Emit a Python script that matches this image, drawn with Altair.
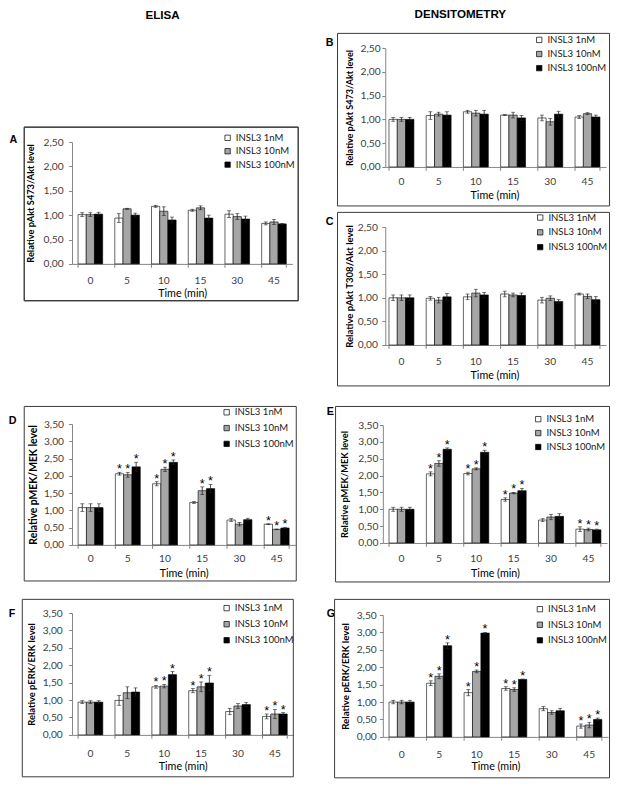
import altair as alt
import pandas as pd

S = 0.975
FONT = "Lato"
HFONT = "Liberation Sans"
LFS = 9.8  # legend label font size (orig px)

TIMES = ["0", "5", "10", "15", "30", "45"]
DOSES = ["INSL3 1nM", "INSL3 10nM", "INSL3 100nM"]
FILLS = ["#ffffff", "#a6a6a6", "#000000"]
Y_TICKS_AKT = [0, 0.5, 1.0, 1.5, 2.0, 2.5]
Y_TICKS_MAPK = [0, 0.5, 1.0, 1.5, 2.0, 2.5, 3.0, 3.5]

# ---- Panel A: ELISA pAkt S473/Akt
A_1NM = [1.01, 0.94, 1.18, 1.10, 1.02, 0.83]
A_1NM_ERR = [0.04, 0.09, 0.02, 0.02, 0.07, 0.03]
A_10NM = [1.01, 1.13, 1.08, 1.15, 0.97, 0.86]
A_10NM_ERR = [0.04, 0.01, 0.09, 0.04, 0.06, 0.05]
A_100NM = [1.02, 1.00, 0.90, 0.94, 0.92, 0.82]
A_100NM_ERR = [0.04, 0.04, 0.06, 0.06, 0.06, 0.01]

# ---- Panel B: densitometry pAkt S473/Akt
B_1NM = [1.00, 1.08, 1.16, 1.09, 1.03, 1.05]
B_1NM_ERR = [0.04, 0.08, 0.03, 0.01, 0.06, 0.03]
B_10NM = [1.00, 1.11, 1.13, 1.09, 0.95, 1.12]
B_10NM_ERR = [0.04, 0.04, 0.06, 0.06, 0.07, 0.02]
B_100NM = [1.00, 1.09, 1.11, 1.03, 1.11, 1.05]
B_100NM_ERR = [0.04, 0.07, 0.08, 0.05, 0.06, 0.04]

# ---- Panel C: densitometry pAkt T308/Akt
C_1NM = [1.00, 0.99, 1.02, 1.08, 0.95, 1.08]
C_1NM_ERR = [0.06, 0.04, 0.06, 0.06, 0.06, 0.02]
C_10NM = [1.00, 0.95, 1.10, 1.06, 0.99, 1.03]
C_10NM_ERR = [0.06, 0.06, 0.08, 0.04, 0.05, 0.05]
C_100NM = [1.00, 1.02, 1.06, 1.05, 0.92, 0.96]
C_100NM_ERR = [0.06, 0.07, 0.05, 0.05, 0.04, 0.07]

# ---- Panel D: ELISA pMEK/MEK
D_1NM = [1.08, 2.06, 1.77, 1.23, 0.72, 0.60]
D_1NM_ERR = [0.11, 0.04, 0.06, 0.03, 0.04, 0.01]
D_10NM = [1.08, 2.03, 2.19, 1.57, 0.60, 0.45]
D_10NM_ERR = [0.11, 0.07, 0.06, 0.11, 0.05, 0.01]
D_100NM = [1.08, 2.26, 2.39, 1.63, 0.73, 0.49]
D_100NM_ERR = [0.11, 0.13, 0.07, 0.12, 0.04, 0.02]
D_1NM_STAR = [0, 1, 1, 0, 0, 1]
D_10NM_STAR = [0, 1, 1, 1, 0, 1]
D_100NM_STAR = [0, 1, 1, 1, 0, 1]

# ---- Panel E: densitometry pMEK/MEK
E_1NM = [1.00, 2.05, 2.06, 1.29, 0.68, 0.41]
E_1NM_ERR = [0.06, 0.06, 0.04, 0.05, 0.04, 0.07]
E_10NM = [1.00, 2.36, 2.20, 1.48, 0.77, 0.40]
E_10NM_ERR = [0.06, 0.08, 0.03, 0.02, 0.08, 0.04]
E_100NM = [1.00, 2.78, 2.69, 1.55, 0.79, 0.39]
E_100NM_ERR = [0.06, 0.04, 0.06, 0.07, 0.08, 0.02]
E_1NM_STAR = [0, 1, 1, 1, 0, 1]
E_10NM_STAR = [0, 1, 1, 1, 0, 1]
E_100NM_STAR = [0, 1, 1, 1, 0, 1]

# ---- Panel F: ELISA pERK/ERK
F_1NM = [0.94, 0.99, 1.38, 1.27, 0.67, 0.53]
F_1NM_ERR = [0.04, 0.14, 0.04, 0.06, 0.09, 0.07]
F_10NM = [0.94, 1.21, 1.40, 1.38, 0.83, 0.60]
F_10NM_ERR = [0.04, 0.17, 0.05, 0.14, 0.07, 0.13]
F_100NM = [0.94, 1.23, 1.73, 1.49, 0.87, 0.60]
F_100NM_ERR = [0.04, 0.12, 0.09, 0.22, 0.06, 0.04]
F_1NM_STAR = [0, 0, 1, 1, 0, 1]
F_10NM_STAR = [0, 0, 1, 1, 0, 1]
F_100NM_STAR = [0, 0, 1, 1, 0, 1]

# ---- Panel G: densitometry pERK/ERK
G_1NM = [1.00, 1.54, 1.27, 1.39, 0.81, 0.31]
G_1NM_ERR = [0.05, 0.07, 0.09, 0.05, 0.06, 0.06]
G_10NM = [1.00, 1.74, 1.88, 1.36, 0.70, 0.34]
G_10NM_ERR = [0.05, 0.07, 0.04, 0.05, 0.05, 0.08]
G_100NM = [1.00, 2.62, 2.98, 1.65, 0.75, 0.50]
G_100NM_ERR = [0.05, 0.08, 0.02, 0.01, 0.07, 0.04]
G_1NM_STAR = [0, 1, 1, 1, 0, 1]
G_10NM_STAR = [0, 1, 1, 1, 0, 1]
G_100NM_STAR = [0, 1, 1, 1, 0, 1]

NO_STAR = [0, 0, 0, 0, 0, 0]

# layout (original-pixel units, relative to each plot area)
LAY = {
    "A": dict(w=226, h=125, ygap=9, ytfs=9.5, ytx=-43, yoff=0, lx=154.7, ly=-4.3, lsp=12.3,
              box=(-49, -15, 232, 163), let=(-64, -2), xlab=17, xtit=30),
    "B": dict(w=229, h=122, ygap=5.3, ytfs=9.3, ytx=-36.3, yoff=-2.5, lx=155.5, ly=-8.3, lsp=13,
              box=(-46.5, -15, 232.5, 162), let=(-58.5, -5), xlab=14.7, xtit=29.7),
    "C": dict(w=229, h=121, ygap=8, ytfs=9.8, ytx=-36.3, yoff=-2.5, lx=156.5, ly=-9.7, lsp=13.7,
              box=(-46.5, -15, 232.5, 163), let=(-58.5, -5), xlab=17.3, xtit=31.7),
    "D": dict(w=229, h=124, ygap=8.7, ytfs=10.6, ytx=-39.7, yoff=0, lx=153.7, ly=-12, lsp=14.7,
              box=(-49, -18, 230, 161), let=(-65, -3), xlab=14, xtit=29),
    "E": dict(w=230, h=121, ygap=5, ytfs=9.5, ytx=-39.5, yoff=0, lx=154.5, ly=-6, lsp=12.8,
              box=(-48.5, -19, 232.5, 161), let=(-57.5, -13.5), xlab=16, xtit=31),
    "F": dict(w=227, h=125, ygap=10, ytfs=9.6, ytx=-41.3, yoff=0, lx=153.7, ly=-5, lsp=15,
              box=(-51, -14, 227, 168), let=(-65, 1), xlab=18.7, xtit=32.7),
    "G": dict(w=231, h=125, ygap=6.7, ytfs=10, ytx=-38.8, yoff=0, lx=156.2, ly=-6, lsp=14.5,
              box=(-49.5, -16, 232.5, 167), let=(-57.5, -0.5), xlab=18, xtit=30.7),
}

LABEL_EXPR = "replace(format(datum.value, '.2f'), '.', ',')"
BOX_COLOR = "#3c3c3c"
TOP_GAP_LEFT = 97   # plot B top -> plot A top
GAP_C_E = 82        # plot C bottom -> plot E top
GAP_E_G = 73        # plot E bottom -> plot G top


def make_df(vals, errs, stars):
    rows = []
    for j, dose in enumerate(DOSES):
        for i, t in enumerate(TIMES):
            v = vals[j][i]
            e = errs[j][i]
            rows.append(dict(time=t, dose=dose, val=v, lo=v - e, hi=v + e,
                             star=bool(stars[j][i])))
    return pd.DataFrame(rows)


def box_rules(bx, dy=0.0):
    one = pd.DataFrame({"k": [0]})
    x1, x2 = bx[0] * S, bx[2] * S
    y1, y2 = (bx[1] + dy) * S, (bx[3] + dy) * S
    base = alt.Chart(one).mark_rule(color=BOX_COLOR, strokeWidth=1)
    return [
        base.encode(x=alt.value(x1), x2=alt.value(x2), y=alt.value(y1)),
        base.encode(x=alt.value(x1), x2=alt.value(x2), y=alt.value(y2)),
        base.encode(x=alt.value(x1), y=alt.value(y1), y2=alt.value(y2)),
        base.encode(x=alt.value(x2), y=alt.value(y1), y2=alt.value(y2)),
    ]


def letter_text(letter, dy=0.0):
    one = pd.DataFrame({"k": [0]})
    lx, ly = LAY[letter]["let"]
    return alt.Chart(one).mark_text(text=letter, font=HFONT, fontWeight="bold",
                                    fontSize=11 * S, align="left", baseline="middle",
                                    color="#000000").encode(
        x=alt.value(lx * S), y=alt.value((ly + dy) * S))


def panel(letter, vals, errs, stars, yticks, ytitle, own_letter=True):
    L = LAY[letter]
    w = L["w"] * S
    h = L["h"] * S
    df = make_df(vals, errs, stars)
    tdf = pd.DataFrame({"time": TIMES})

    xscale = alt.Scale(domain=TIMES, paddingInner=0.33, paddingOuter=0.165)
    yscale = alt.Scale(domain=[0, yticks[-1]], nice=False, zero=True)
    xaxis = alt.Axis(title="Time (min)", labelAngle=0, ticks=False, tickSize=0,
                     domainColor="#868686", domainWidth=1, grid=False,
                     labelColor="#404040", labelFont=FONT, labelFontSize=10.5 * S,
                     labelBaseline="middle", labelPadding=L["xlab"] * S,
                     titleFont=FONT, titleFontSize=11 * S, titleFontWeight="normal",
                     titleColor="#000000", titleY=L["xtit"] * S, titleBaseline="middle")
    yaxis = alt.Axis(title=ytitle, values=yticks, labelExpr=LABEL_EXPR, grid=False,
                     domainColor="#868686", domainWidth=1, tickColor="#868686",
                     tickSize=3.5 * S, labelPadding=max(L["ygap"] - 3.5, 0.5) * S,
                     labelColor="#404040", labelFont=FONT, labelFontSize=10.5 * S,
                     titleFont=FONT, titleFontSize=L["ytfs"] * S, titleFontWeight="bold",
                     titleColor="#000000", titleX=L["ytx"] * S,
                     titleY=h / 2, titleAngle=270, titleAlign="center", titleBaseline="middle",
                     offset=L["yoff"] * S)

    X = alt.X("time:N", sort=TIMES, scale=xscale, axis=xaxis)
    XO = alt.XOffset("dose:N", sort=DOSES,
                     scale=alt.Scale(domain=DOSES, paddingInner=0, paddingOuter=0))

    def Y(f):
        return alt.Y(f"{f}:Q", scale=yscale, axis=yaxis)

    legend = alt.Legend(orient="none", legendX=L["lx"] * S, legendY=(L["ly"] - LFS / 2) * S,
                        title=None, symbolType="square", symbolSize=(5.5 * S) ** 2,
                        symbolStrokeColor="#000000", symbolStrokeWidth=0.7,
                        labelFont=FONT, labelFontSize=LFS * S, labelColor="#1a1a1a",
                        labelOffset=3.5 * S, rowPadding=(L["lsp"] - LFS) * S, padding=0)

    bt = alt.Chart(tdf).mark_rule(color="#868686", strokeWidth=1).encode(
        x=alt.X("time:N", sort=TIMES, scale=xscale, axis=xaxis, bandPosition=0),
        y=alt.value(h), y2=alt.value(h + 4 * S))
    bt_end = alt.Chart(tdf).transform_filter(alt.datum.time == TIMES[-1]).mark_rule(
        color="#868686", strokeWidth=1).encode(
        x=alt.X("time:N", sort=TIMES, scale=xscale, axis=xaxis, bandPosition=1),
        y=alt.value(h), y2=alt.value(h + 4 * S))

    bars = alt.Chart(df).mark_bar(stroke="#000000", strokeWidth=0.6).encode(
        x=X, xOffset=XO, y=Y("val"),
        color=alt.Color("dose:N", sort=DOSES,
                        scale=alt.Scale(domain=DOSES, range=FILLS), legend=legend))

    err = alt.Chart(df).mark_rule(color="#1e1e1e", strokeWidth=0.8).encode(
        x=X, xOffset=XO, y=Y("lo"), y2=alt.Y2("hi"))
    cap_hi = alt.Chart(df).mark_tick(color="#1e1e1e", thickness=0.8, size=4 * S).encode(
        x=X, xOffset=XO, y=Y("hi"))
    cap_lo = alt.Chart(df).mark_tick(color="#1e1e1e", thickness=0.8, size=4 * S).encode(
        x=X, xOffset=XO, y=Y("lo"))

    layers = [bt, bt_end, bars, err, cap_hi, cap_lo]

    if df["star"].any():
        star = alt.Chart(df).transform_filter("datum.star").mark_text(
            text="*", font=HFONT, fontSize=13 * S, color="#000000",
            baseline="alphabetic", dy=1).encode(x=X, xOffset=XO, y=Y("hi"))
        layers.append(star)

    if own_letter:
        layers.append(letter_text(letter))
    layers.extend(box_rules(L["box"]))

    return alt.layer(*layers).properties(width=w, height=h)


def spacer(hh, header=None, extra=None):
    one = pd.DataFrame({"k": [0]})
    layers = [alt.Chart(one).mark_point(size=0, opacity=0).encode(
        x=alt.value(0), y=alt.value(0))]
    if header is not None:
        txt, hx, hy = header
        layers.append(alt.Chart(one).mark_text(text=txt, font=HFONT, fontWeight="bold",
                                               fontSize=11.9 * S, align="center", baseline="top",
                                               color="#000000").encode(
            x=alt.value(hx * S), y=alt.value(hy * S)))
    if extra:
        layers.extend(extra)
    return alt.layer(*layers).properties(width=1, height=hh * S)


pA = panel("A", [A_1NM, A_10NM, A_100NM], [A_1NM_ERR, A_10NM_ERR, A_100NM_ERR],
           [NO_STAR, NO_STAR, NO_STAR], Y_TICKS_AKT, "Relative pAkt S473/Akt level")
pB = panel("B", [B_1NM, B_10NM, B_100NM], [B_1NM_ERR, B_10NM_ERR, B_100NM_ERR],
           [NO_STAR, NO_STAR, NO_STAR], Y_TICKS_AKT, "Relative pAkt S473/Akt level")
pC = panel("C", [C_1NM, C_10NM, C_100NM], [C_1NM_ERR, C_10NM_ERR, C_100NM_ERR],
           [NO_STAR, NO_STAR, NO_STAR], Y_TICKS_AKT, "Relative pAkt T308/Akt level")
pD = panel("D", [D_1NM, D_10NM, D_100NM], [D_1NM_ERR, D_10NM_ERR, D_100NM_ERR],
           [D_1NM_STAR, D_10NM_STAR, D_100NM_STAR], Y_TICKS_MAPK, "Relative pMEK/MEK level")
pE = panel("E", [E_1NM, E_10NM, E_100NM], [E_1NM_ERR, E_10NM_ERR, E_100NM_ERR],
           [E_1NM_STAR, E_10NM_STAR, E_100NM_STAR], Y_TICKS_MAPK, "Relative pMEK/MEK level",
           own_letter=False)
pF = panel("F", [F_1NM, F_10NM, F_100NM], [F_1NM_ERR, F_10NM_ERR, F_100NM_ERR],
           [F_1NM_STAR, F_10NM_STAR, F_100NM_STAR], Y_TICKS_MAPK, "Relative pERK/ERK level")
pG = panel("G", [G_1NM, G_10NM, G_100NM], [G_1NM_ERR, G_10NM_ERR, G_100NM_ERR],
           [G_1NM_STAR, G_10NM_STAR, G_100NM_STAR], Y_TICKS_MAPK, "Relative pERK/ERK level",
           own_letter=False)

RES = dict(x="independent", y="independent", xOffset="independent", color="independent")

# the ELISA header and panel A's frame are also drawn from the top spacer of the left column
top_left = spacer(TOP_GAP_LEFT, ("ELISA", 92.8, -38.2),
                  extra=box_rules(LAY["A"]["box"], dy=TOP_GAP_LEFT))
left = alt.vconcat(top_left, pA, spacer(164), pD, spacer(69), pF,
                   spacing=0, bounds="flush").resolve_scale(**RES).resolve_legend(color="independent")
# letters E and G are drawn from the spacers just above their panels
right = alt.vconcat(spacer(1, ("DENSITOMETRY", 79.5, -39.2)), pB, spacer(61), pC,
                    spacer(GAP_C_E, extra=[letter_text("E", dy=GAP_C_E)]), pE,
                    spacer(GAP_E_G, extra=[letter_text("G", dy=GAP_E_G)]), pG,
                    spacing=0, bounds="flush").resolve_scale(**RES).resolve_legend(color="independent")

chart = alt.hconcat(left, right, spacing=26.5 * S, bounds="full").resolve_scale(
    **RES).resolve_legend(color="independent").properties(padding=0).configure_view(stroke=None)

chart.save("out.html", embed_options={"renderer": "svg", "actions": False})
